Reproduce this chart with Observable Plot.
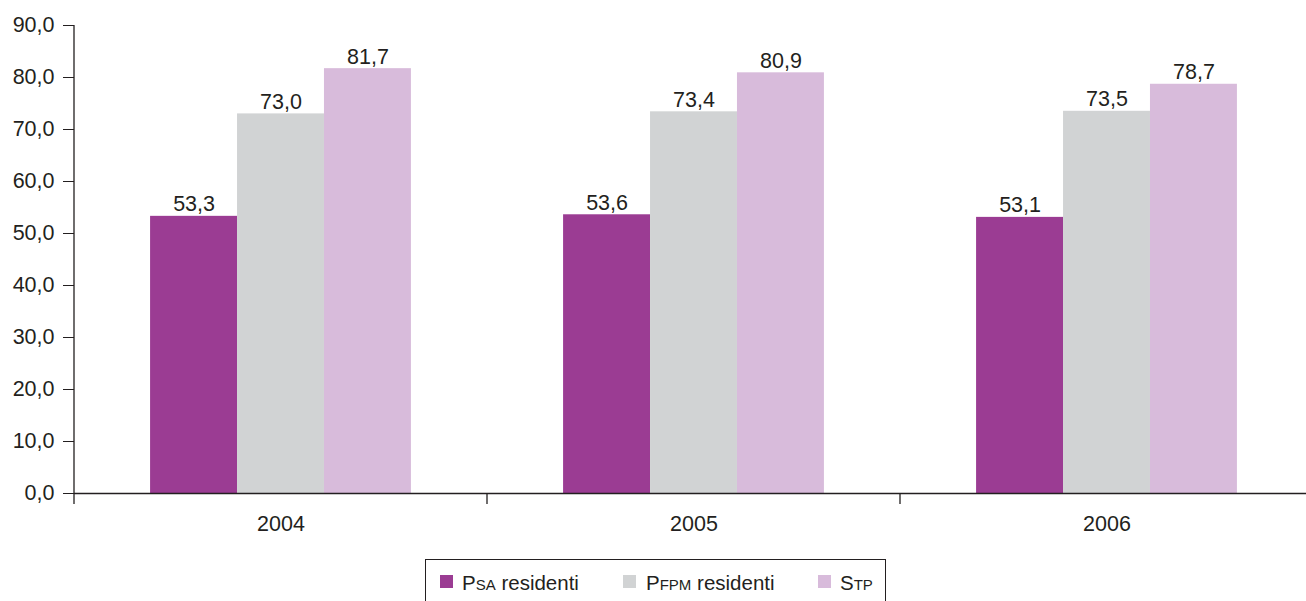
<!DOCTYPE html>
<html>
<head>
<meta charset="utf-8">
<script src="https://cdn.jsdelivr.net/npm/d3@7"></script>
<script src="https://cdn.jsdelivr.net/npm/@observablehq/plot@0.6"></script>
<style>
  html, body { margin: 0; padding: 0; background: #fff; }
  #wrap { position: relative; width: 1306px; height: 601px; overflow: hidden; font-family: "Liberation Sans", Arial, sans-serif; color: #231f20; }
  #wrap svg { position: absolute; left: 0; top: 0; max-width: none !important; }
  #wrap svg text { font-size: 21.5px; font-family: "Liberation Sans", Arial, sans-serif; }
  #legend { position: absolute; left: 425px; top: 559px; width: 461px; height: 60px; border: 1px solid #231f20; box-sizing: border-box; }
  .item { position: absolute; top: 11px; font-size: 20.5px; line-height: 24px; white-space: nowrap; }
  .sw { position: absolute; top: 15px; width: 13px; height: 13px; }
  .sc { font-size: 15px; }
</style>
</head>
<body>
<div id="wrap"></div>
<script>
const years = ["2004", "2005", "2006"];
const series = ["PSA residenti", "PFPM residenti", "STP"];
const psaValues = [53.3, 53.6, 53.1];
const pfpmValues = [73.0, 73.4, 73.5];
const stpValues = [81.7, 80.9, 78.7];
const colors = ["#9b3c93", "#d1d3d4", "#d8bbdb"];
const yTicks = [0, 10, 20, 30, 40, 50, 60, 70, 80, 90];

const valuesBySeries = [psaValues, pfpmValues, stpValues];
const data = [];
years.forEach((yr, i) => {
  series.forEach((s, j) => data.push({year: yr, series: s, value: valuesBySeries[j][i]}));
});
const fmt = v => v.toFixed(1).replace(".", ",");

const chart = Plot.plot({
  width: 1313,
  height: 560,
  marginLeft: 73,
  marginRight: 0,
  marginTop: 25,
  marginBottom: 67,
  style: {fontFamily: "Liberation Sans, Arial, sans-serif", fontSize: "21.5px", color: "#231f20", background: "white", overflow: "visible", maxWidth: "none"},
  facet: {data, x: "year"},
  fx: {domain: years, padding: 0, label: null, tickSize: 0, tickPadding: 22},
  x: {domain: series, paddingInner: 0, paddingOuter: 0.875, round: false, axis: null},
  y: {domain: [0, 90], ticks: yTicks, tickFormat: fmt, tickSize: 11, tickPadding: 9, label: null},
  color: {domain: series, range: colors},
  marks: [
    Plot.barY(data, {x: "series", y: "value", fill: "series", inset: 0}),
    Plot.text(data, {x: "series", y: "value", text: d => fmt(d.value), lineAnchor: "bottom", dy: -5, fontSize: 21.5}),
    Plot.ruleY([0], {stroke: "#231f20", strokeWidth: 1.3})
  ]
});

document.getElementById("wrap").appendChild(chart);

// axis line and group separators, from the library's scales
const fxS = chart.scale("fx");
const yS = chart.scale("y");
const svg = d3.select(chart);
const g = svg.append("g").attr("stroke", "#231f20").attr("stroke-width", 1.3);
g.append("line")
  .attr("x1", fxS.apply(years[0])).attr("x2", fxS.apply(years[0]))
  .attr("y1", yS.apply(90)).attr("y2", yS.apply(0) + 11);
years.slice(1).forEach(yr => {
  const x = fxS.apply(yr);
  g.append("line").attr("x1", x).attr("x2", x).attr("y1", yS.apply(0)).attr("y2", yS.apply(0) + 11);
});

// legend
const legend = d3.select("#wrap").append("div").attr("id", "legend");
const itemPos = [{sw: 14, tx: 36}, {sw: 197, tx: 220}, {sw: 392, tx: 414}];
const labelsHtml = ["P<span class='sc'>SA</span> residenti", "P<span class='sc'>FPM</span> residenti", "S<span class='sc'>TP</span>"];
series.forEach((s, i) => {
  legend.append("div").attr("class", "sw").style("left", itemPos[i].sw + "px").style("background", colors[i]);
  legend.append("div").attr("class", "item").style("left", itemPos[i].tx + "px").html(labelsHtml[i]);
});
</script>
</body>
</html>
